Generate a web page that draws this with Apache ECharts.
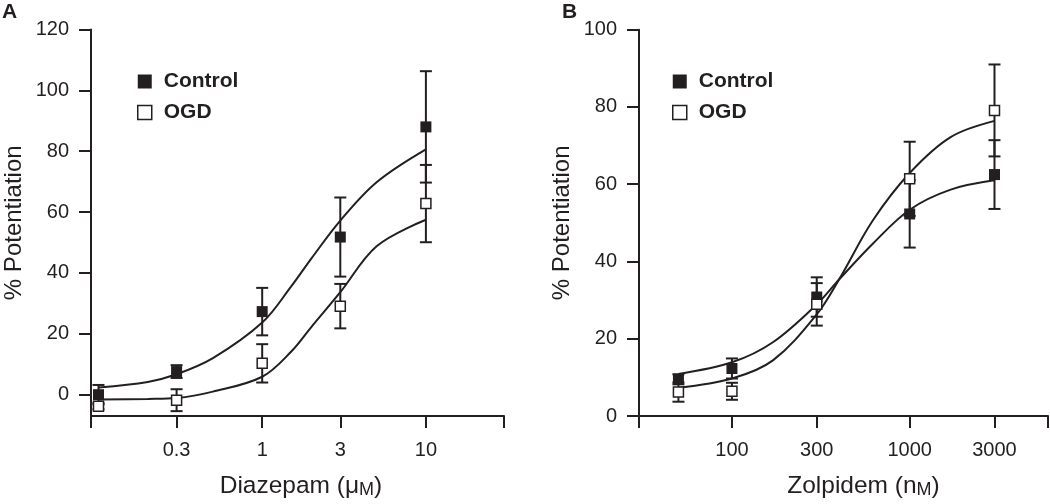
<!DOCTYPE html>
<html>
<head>
    <meta charset="UTF-8">
    <title>Potentiation</title>
    <script src="https://cdn.jsdelivr.net/npm/echarts@6/dist/echarts.min.js"></script>
    <style>
        html, body { margin: 0; padding: 0; background: #fff; }
        #main { width: 1050px; height: 504px; }
    </style>
</head>
<body>
<div id="main"></div>
<script>
// ---- panel A: diazepam (uM) ----
var xTicksA = [0.3, 1, 3, 10];
var xRangeA = [0.09, 30];
var concA = [0.1, 0.3, 1, 3, 10];
var ctrlA = [0, 7.6, 27.3, 51.8, 88];
var ctrlSemA = [3.2, 2.1, 7.8, 13, 18.3];
var ogdA = [-3.8, -1.8, 10.3, 29.1, 62.8];
var ogdSemA = [1, 3.6, 6.3, 7.3, 12.7];
// fitted curves
var fitConcA = [0.1, 0.2, 0.3, 0.5, 1, 1.5, 2, 3, 5, 10];
var fitCtrlA = [2.4, 4.2, 6.7, 12, 23.7, 35.5, 44.8, 57.2, 69.8, 80.6];
var fitOgdA = [-1.6, -1.4, -1.1, 1, 5.9, 14.1, 22.3, 33.7, 48.8, 57.5];
var yTicksA = [0, 20, 40, 60, 80, 100, 120];

// ---- panel B: zolpidem (nM) ----
var xTicksB = [100, 300, 1000, 3000];
var xRangeB = [30, 6000];
var concB = [50, 100, 300, 1000, 3000];
var ctrlB = [9.5, 12.3, 30.8, 52.3, 62.5];
var ctrlSemB = [1.3, 2.6, 5.1, 8.7, 8.9];
var ogdB = [6.2, 6.4, 28.9, 61.4, 79.1];
var ogdSemB = [2.5, 2.2, 5.5, 9.6, 11.9];
var fitConcB = [50, 100, 170, 300, 400, 620, 1000, 1700, 3000];
var fitCtrlB = [10.9, 13.9, 19.1, 28.9, 35.3, 44.6, 53.4, 58.6, 61];
var fitOgdB = [7.3, 9.7, 14.4, 26.3, 35.3, 50.6, 62.9, 72.2, 76.4];
var yTicksB = [0, 20, 40, 60, 80, 100];

var INK = '#231f20';
var FONT = 'Liberation Sans, Arial, sans-serif';

function lg(v) { return Math.log10(v); }
function pairs(xs, ys) { return xs.map(function (x, i) { return [lg(x), ys[i]]; }); }
function bars(xs, ys, es) { return xs.map(function (x, i) { return [lg(x), ys[i] - es[i], ys[i] + es[i]]; }); }

function renderErr(params, api) {
    var x = api.value(0);
    var lo = api.coord([x, api.value(1)]);
    var hi = api.coord([x, api.value(2)]);
    var w = 6;
    var st = { stroke: INK, lineWidth: 2 };
    return {
        type: 'group',
        children: [
            { type: 'line', shape: { x1: lo[0], y1: lo[1], x2: hi[0], y2: hi[1] }, style: st },
            { type: 'line', shape: { x1: hi[0] - w, y1: hi[1], x2: hi[0] + w, y2: hi[1] }, style: st },
            { type: 'line', shape: { x1: lo[0] - w, y1: lo[1], x2: lo[0] + w, y2: lo[1] }, style: st }
        ]
    };
}

function xAxisFor(idx, range, ticks, name, padLeft) {
    var tickVals = [lg(range[0])].concat(ticks.map(lg)).concat([lg(range[1])]);
    return {
        type: 'value', gridIndex: idx,
        min: lg(range[0]), max: lg(range[1]),
        splitLine: { show: false },
        axisLine: { onZero: false, lineStyle: { color: INK, width: 2 } },
        axisTick: { length: 12, lineStyle: { color: INK, width: 2 }, customValues: tickVals },
        axisLabel: {
            customValues: ticks.map(lg), margin: 24,
            color: INK, fontFamily: FONT, fontSize: 20,
            formatter: function (v) { return String(+Math.pow(10, v).toPrecision(3)); }
        },
        name: name, nameLocation: 'middle', nameGap: 58,
        nameTextStyle: {
            color: INK, fontFamily: FONT, fontSize: 24.5, padding: [0, 0, 0, padLeft],
            rich: { sc: { fontFamily: FONT, fontSize: 18, color: INK, verticalAlign: 'bottom' } }
        }
    };
}

function yAxisFor(idx, min, max, ticks) {
    return {
        type: 'value', gridIndex: idx, min: min, max: max,
        splitLine: { show: false },
        axisLine: { onZero: false, lineStyle: { color: INK, width: 2 } },
        axisTick: { length: 12, lineStyle: { color: INK, width: 2 }, customValues: ticks },
        axisLabel: { customValues: ticks, margin: 22, color: INK, fontFamily: FONT, fontSize: 20 },
        name: '% Potentiation', nameLocation: 'middle', nameGap: 65,
        nameTextStyle: { color: INK, fontFamily: FONT, fontSize: 24 }
    };
}

function panelSeries(idx, conc, ctrl, ctrlSem, ogd, ogdSem, fitConc, fitCtrl, fitOgd) {
    var lineStyle = { color: INK, width: 2 };
    return [
        { type: 'line', xAxisIndex: idx, yAxisIndex: idx, data: pairs(fitConc, fitCtrl), smooth: 0.35,
          showSymbol: false, lineStyle: lineStyle, z: 1, silent: true },
        { type: 'line', xAxisIndex: idx, yAxisIndex: idx, data: pairs(fitConc, fitOgd), smooth: 0.35,
          showSymbol: false, lineStyle: lineStyle, z: 1, silent: true },
        { type: 'custom', xAxisIndex: idx, yAxisIndex: idx, data: bars(conc, ctrl, ctrlSem),
          renderItem: renderErr, z: 2, encode: { x: 0, y: [1, 2] } },
        { type: 'custom', xAxisIndex: idx, yAxisIndex: idx, data: bars(conc, ogd, ogdSem),
          renderItem: renderErr, z: 2, encode: { x: 0, y: [1, 2] } },
        { name: 'Control', type: 'scatter', xAxisIndex: idx, yAxisIndex: idx, data: pairs(conc, ctrl),
          symbol: 'rect', symbolSize: 11, itemStyle: { color: INK, opacity: 1 }, z: 3 },
        { name: 'OGD', type: 'scatter', xAxisIndex: idx, yAxisIndex: idx, data: pairs(conc, ogd),
          symbol: 'rect', symbolSize: 10,
          itemStyle: { color: '#fff', borderColor: INK, borderWidth: 1.5, opacity: 1 }, z: 4 }
    ];
}

function legendAt(left) {
    return {
        left: left, top: 66, orient: 'vertical',
        itemWidth: 14, itemHeight: 14, itemGap: 10,
        textStyle: { fontFamily: FONT, fontSize: 21, fontWeight: 'bold', color: INK, padding: [0, 0, 0, 7] },
        data: [
            { name: 'Control', icon: 'rect', itemStyle: { color: INK, borderWidth: 0, opacity: 1 } },
            { name: 'OGD', icon: 'rect', itemStyle: { color: '#fff', borderColor: INK, borderWidth: 1.5, opacity: 1 } }
        ],
        selectedMode: false
    };
}

var chart = echarts.init(document.getElementById('main'));
chart.setOption({
    animation: false,
    backgroundColor: '#fff',
    grid: [
        { left: 91, top: 29.5, width: 413, height: 392.2 },
        { left: 639, top: 29.7, width: 409, height: 392 }
    ],
    xAxis: [
        xAxisFor(0, xRangeA, xTicksA, 'Diazepam (μ{sc|M})', 7),
        xAxisFor(1, xRangeB, xTicksB, 'Zolpidem (n{sc|M})', 40)
    ],
    yAxis: [
        yAxisFor(0, -7, 120, yTicksA),
        yAxisFor(1, 0, 100, yTicksB)
    ],
    legend: [legendAt(132), legendAt(667)],
    graphic: [
        { type: 'text', left: 2, top: 2, style: { text: 'A', fontFamily: FONT, fontSize: 21, fontWeight: 'bold', fill: INK } },
        { type: 'text', left: 562, top: 2, style: { text: 'B', fontFamily: FONT, fontSize: 21, fontWeight: 'bold', fill: INK } }
    ],
    series: panelSeries(0, concA, ctrlA, ctrlSemA, ogdA, ogdSemA, fitConcA, fitCtrlA, fitOgdA)
        .concat(panelSeries(1, concB, ctrlB, ctrlSemB, ogdB, ogdSemB, fitConcB, fitCtrlB, fitOgdB))
});
</script>
</body>
</html>
